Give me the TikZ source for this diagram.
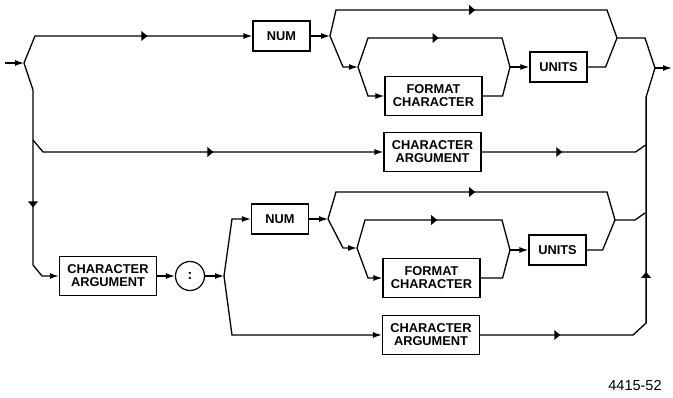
\documentclass[tikz,border=0pt]{standalone}
\usepackage{fontspec}
\setmainfont{Liberation Sans}
\usetikzlibrary{arrows.meta, shapes.geometric}

\tikzset{
    % syntax boxes
    term/.style={
        rectangle,
        draw,
        line width=1.2pt,
        align=center,
        inner sep=2pt,
        font=\fontsize{12.8}{13}\selectfont\bfseries
    },
    term small/.style={
        term,
        minimum width=57pt,
        minimum height=30pt
    },
    term wide/.style={
        term,
        minimum width=97pt,
        minimum height=39pt
    },
    sep circle/.style={
        circle,
        draw,
        line width=1.2pt,
        minimum size=29pt,
        inner sep=0pt,
        font=\fontsize{14}{14}\selectfont\bfseries
    },
    % rails and arrows
    rail/.style={
        line width=1.3pt
    },
    into/.style={
        rail,
        -{Latex[length=9pt,width=6pt]}
    },
    tip/.style={
        sloped,
        allow upside down,
        isosceles triangle,
        isosceles triangle stretches,
        fill,
        inner sep=0pt,
        minimum width=10pt,
        minimum height=6pt
    }
}

\begin{document}
\begin{tikzpicture}[x=1pt, y=-1pt]
    \useasboundingbox (0,0) rectangle (673,398);

    % upper boxes
    \node[term small] (num1) at (281.5,36) {NUM};
    \node[term wide] (fmt1) at (433.5,96) {FORMAT\\CHARACTER};
    \node[term small] (units1) at (558.5,67) {UNITS};
    \node[term wide] (arg1) at (432.5,152) {CHARACTER\\ARGUMENT};

    % lower boxes
    \node[term wide] (arg2) at (108,276) {CHARACTER\\ARGUMENT};
    \node[sep circle] (colon) at (190,276) {:};
    \node[term small] (num2) at (280,219) {NUM};
    \node[term wide] (fmt2) at (431.5,278) {FORMAT\\CHARACTER};
    \node[term small] (units2) at (557.5,250) {UNITS};
    \node[term wide] (arg3) at (431,335) {CHARACTER\\ARGUMENT};

    \node[font=\fontsize{14.5}{14.5}\selectfont] (fignum) at (635,386) {4415-52};

    % junctions
    \coordinate (in) at (5,63);
    \coordinate (j0) at (24,63);
    \coordinate (jv) at (33,140);
    \coordinate (j1) at (330,36);
    \coordinate (j2) at (358,67);
    \coordinate (m1) at (617,38);
    \coordinate (m2) at (510,67);
    \coordinate (jx) at (655,68);
    \coordinate (out) at (672,68);
    \coordinate (j3) at (224,276);
    \coordinate (j4) at (328,219);
    \coordinate (j5) at (357,248);
    \coordinate (m3) at (615,220);
    \coordinate (m4) at (510,250);

    % entry and left rails
    \draw[into] (in) -- (j0);
    \draw[into] (j0) -- ++(11,-27) -- node[tip]{} (num1.west);
    \draw[into] (j0) -- ++(9,27) -- node[tip, pos=.65]{} ++(0,175) -- ++(9,11) -- (arg2.west);
    \draw[into] (jv) -- ++(10,12) -- node[tip, pos=.49]{} (arg1.west);

    % upper number group
    \draw[into] (num1) -- (j1);
    \draw[rail] (j1) -- ++(6,-26) -- node[tip]{} ++(271,0) -- (m1);
    \draw[into] (j1) -- ++(13,31) -- (j2);
    \draw[rail] (j2) -- ++(10,-29) -- node[tip]{} ++(134,0) -- (m2);
    \draw[into] (j2) -- ++(10,29) -- (fmt1.west);
    \draw[rail] (fmt1.east) -- ++(20,0) -- (m2);
    \draw[into] (m2) -- (units1.west);
    \draw[rail] (units1.east) -- ++(18,0) -- (m1);
    \draw[rail] (m1) -- ++(28,0) -- (jx);
    \draw[into] (jx) -- (out);

    % right return rail
    \draw[rail] (arg3.east) -- node[tip]{} ++(153,0) -- ++(13,-12) -- node[tip, pos=.21]{} ++(0,-226) -- (jx);
    \draw[rail] (arg1.east) -- node[tip]{} ++(154,0) -- ++(10,-7);

    % lower group
    \draw[into] (arg2) -- (colon);
    \draw[into] (colon) -- (j3);
    \draw[into] (j3) -- ++(8,-57) -- (num2.west);
    \draw[into] (j3) -- ++(8,59) -- (arg3.west);
    \draw[into] (num2) -- (j4);
    \draw[rail] (j4) -- ++(8,-27) -- node[tip]{} ++(271,0) -- (m3);
    \draw[into] (j4) -- ++(15,29) -- (j5);
    \draw[rail] (j5) -- ++(8,-28) -- node[tip]{} ++(137,0) -- (m4);
    \draw[into] (j5) -- ++(11,30) -- (fmt2.west);
    \draw[rail] (fmt2.east) -- ++(22,0) -- (m4);
    \draw[into] (m4) -- (units2.west);
    \draw[rail] (units2.east) -- ++(16,0) -- (m3);
    \draw[rail] (m3) -- ++(20,0) -- ++(10,-7);
\end{tikzpicture}
\end{document}
